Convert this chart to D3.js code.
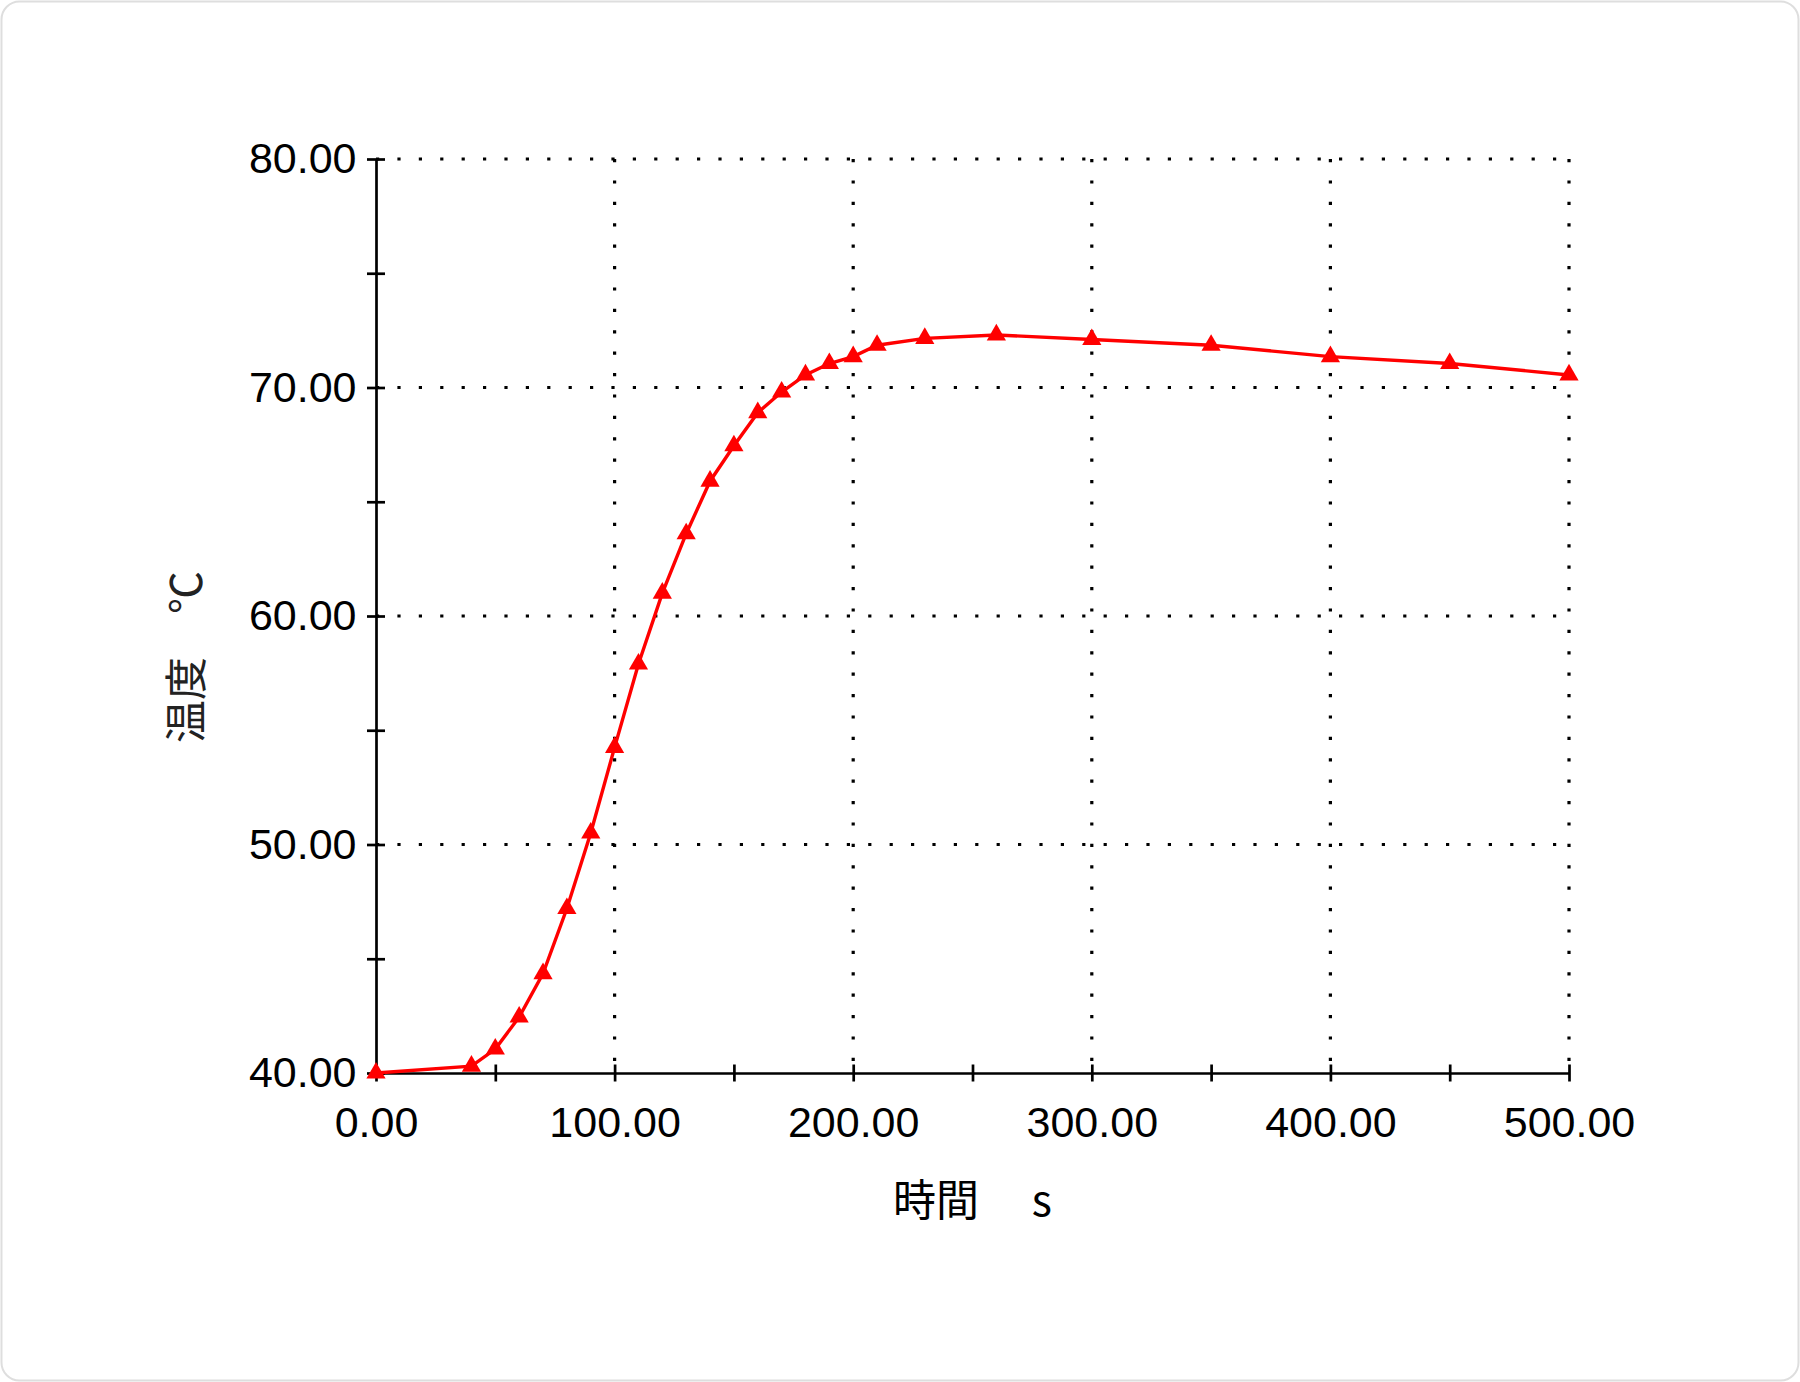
<!DOCTYPE html>
<html>
<head>
<meta charset="utf-8">
<script src="https://cdn.jsdelivr.net/npm/d3@7"></script>
<style>
  body { margin: 0; background: #fff; }
  svg { display: block; }
</style>
</head>
<body>
<div id="main"></div>
<script>
// time (s) and temperature (°C)
var times = [0, 40, 50, 60, 70, 80, 90, 100, 110, 120, 130, 140, 150, 160, 170, 180, 190, 200, 210, 230, 260, 300, 350, 400, 450, 500];
var temps = [40.0, 40.3, 41.05, 42.45, 44.35, 47.2, 50.5, 54.25, 57.9, 61.0, 63.6, 65.9, 67.45, 68.9, 69.8, 70.55, 71.05, 71.35, 71.85, 72.15, 72.3, 72.1, 71.85, 71.35, 71.05, 70.55];

var xMajor = [0, 100, 200, 300, 400, 500];
var xTicks = [0, 50, 100, 150, 200, 250, 300, 350, 400, 450, 500];
var yMajor = [40, 50, 60, 70, 80];
var yTicks = [40, 45, 50, 55, 60, 65, 70, 75, 80];

var xTitle = '時間　 s';
var yTitle = '温度　℃';

function draw() {
  var width = 1800, height = 1382;
  var left = 376, right = 1569, top = 159, bottom = 1073;

  var svg = d3.select('#main').append('svg')
    .attr('width', width)
    .attr('height', height);

  // outer frame
  svg.append('rect')
    .attr('x', 1.5).attr('y', 1.5)
    .attr('width', width - 3).attr('height', height - 3)
    .attr('rx', 18).attr('ry', 18)
    .attr('fill', '#fff')
    .attr('stroke', '#dedede')
    .attr('stroke-width', 2);

  var x = d3.scaleLinear().domain([0, 500]).range([left, right]);
  var y = d3.scaleLinear().domain([40, 80]).range([bottom, top]);

  var fmt = d3.format('.2f');

  // dotted grid
  var grid = svg.append('g')
    .attr('stroke', '#000')
    .attr('stroke-width', 3.2)
    .attr('stroke-dasharray', '3.2 18.2');

  grid.selectAll('.hgrid')
    .data(yMajor.filter(function (d) { return d > 40; }))
    .enter()
    .append('line')
    .attr('x1', left).attr('x2', right)
    .attr('y1', function (d) { return y(d); })
    .attr('y2', function (d) { return y(d); });

  grid.selectAll('.vgrid')
    .data(xMajor.filter(function (d) { return d > 0; }))
    .enter()
    .append('line')
    .attr('y1', top).attr('y2', bottom)
    .attr('x1', function (d) { return x(d); })
    .attr('x2', function (d) { return x(d); });

  // axes
  var xAxis = svg.append('g')
    .attr('transform', 'translate(0,' + bottom + ')')
    .call(d3.axisBottom(x)
      .tickValues(xTicks)
      .tickSizeInner(8.5)
      .tickSizeOuter(0)
      .tickPadding(25)
      .tickFormat(function (d) { return d % 100 === 0 ? fmt(d) : ''; }));

  xAxis.selectAll('.tick line').attr('y1', -8.5);

  var yAxis = svg.append('g')
    .attr('transform', 'translate(' + left + ',0)')
    .call(d3.axisLeft(y)
      .tickValues(yTicks)
      .tickSizeInner(9)
      .tickSizeOuter(0)
      .tickPadding(10.5)
      .tickFormat(function (d) { return d % 10 === 0 ? fmt(d) : ''; }));

  yAxis.selectAll('.tick line').attr('x1', 9);

  [xAxis, yAxis].forEach(function (g) {
    g.select('.domain').attr('stroke', '#000').attr('stroke-width', 2.7);
    g.selectAll('.tick line').attr('stroke', '#000').attr('stroke-width', 2.7);
    g.selectAll('.tick text')
      .attr('fill', '#000')
      .attr('font-family', '"Liberation Sans", Arial, sans-serif')
      .attr('font-size', 43);
  });

  // curve
  var pts = times.map(function (t, i) { return { t: t, v: temps[i] }; });

  var line = d3.line()
    .x(function (d) { return x(d.t); })
    .y(function (d) { return y(d.v); });

  svg.append('path')
    .datum(pts)
    .attr('fill', 'none')
    .attr('stroke', '#ff0000')
    .attr('stroke-width', 3.4)
    .attr('d', line);

  svg.selectAll('.mark')
    .data(pts)
    .enter()
    .append('path')
    .attr('transform', function (d) { return 'translate(' + x(d.t) + ',' + y(d.v) + ')'; })
    .attr('d', d3.symbol().type(d3.symbolTriangle).size(160))
    .attr('fill', '#ff0000');

  // titles
  svg.append('text')
    .attr('x', (left + right) / 2)
    .attr('y', 1216)
    .attr('text-anchor', 'middle')
    .attr('font-family', '"Noto Sans CJK JP", sans-serif')
    .attr('font-size', 43)
    .attr('fill', '#000')
    .text(xTitle);

  svg.append('text')
    .attr('transform', 'translate(183,657) rotate(-90)')
    .attr('text-anchor', 'middle')
    .attr('dominant-baseline', 'central')
    .attr('font-family', '"Noto Sans CJK JP", sans-serif')
    .attr('font-size', 43)
    .attr('fill', '#222')
    .text(yTitle);
}

draw();
</script>
</body>
</html>
